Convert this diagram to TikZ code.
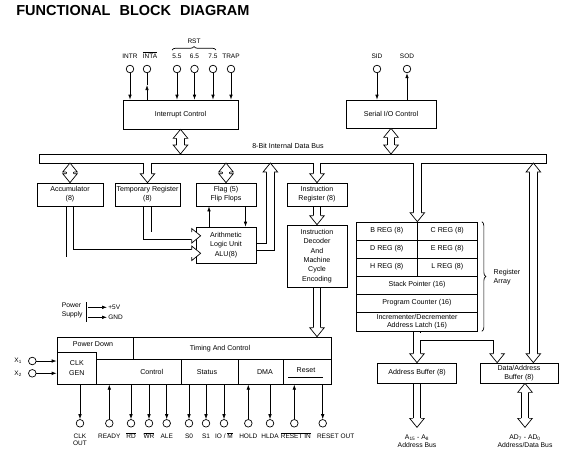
\documentclass[tikz,border=0pt]{standalone}
\usepackage{fontspec}
\setmainfont{Liberation Sans}
\usetikzlibrary{arrows.meta,calc,decorations.pathreplacing,positioning,backgrounds}

\newcommand{\ovl}[1]{$\overline{\mbox{#1}}$}
\newcommand{\pipeset}{
  ($(intc.south)+(0,9)$) -- ($(intc.south |- bustop)+(0,-9)$)
  ($(sioc.south)+(0,9)$) -- ($(sioc.south |- bustop)+(0,-9)$)
  ($(acc.north |- busbot)+(0,9)$) -- ($(acc.north)+(0,-9)$)
  ($(flag.north |- busbot)+(0,9)$) -- ($(flag.north)+(0,-9)$)
  (tmp.north |- busbot) -- ($(tmp.north)+(0,-9)$)
  (ir.north |- busbot) -- ($(ir.north)+(0,-9)$)
  (ir.south) -- ($(dec.north)+(0,-9)$)
  (dec.south) -- ($(dec.south |- tc.north)+(0,-9)$)
  (breg.north east |- busbot) -- ($(breg.north east)+(0,-9)$)
  (latch.south) -- ($(abuf.north)+(0,-9)$)
  ($(latch.south)+(0,5.3)$) -| ($(dain)+(0,-9)$)
  (abuf.south) -- ($(abus)+(0,-9)$)
  ($(daup |- busbot)+(0,9)$) -- ($(daup)+(0,-9)$)
  ($(dadn)+(0,9)$) -- ($(adbus)+(0,-9)$)
  (tmp.south) |- ($(tmpin)+(-9,0)$)
  (acc.south) |- ($(accin)+(-9,0)$)
  ($(alu.east)+(0,2)$) -| ($(aluout)+(0,9)$)
}

\begin{document}
\begin{tikzpicture}[x=1pt,y=-1pt,>={Latex[length=5pt,width=3.6pt]},
  font=\fontsize{7.1}{9.3}\selectfont,line width=0.7pt,
  blk/.style={draw,fill=white,align=center,inner sep=0pt},
  cell/.style={blk,minimum height=18pt},
  hole/.style={draw,fill=white,circle,minimum size=7.6pt,inner sep=0pt},
  plbl/.style={font=\fontsize{6.5}{7.6}\selectfont,inner sep=1pt,text height=5pt,text depth=1.3pt},
  sig/.style={->},
  pipeo/.style={line width=8.3pt,line join=miter},
  pipei/.style={white,line width=6.9pt,line join=miter},
  hd/.pic={\filldraw[fill=white,line join=miter] (-9,-3.8) -- (-9,-7.3) -- (0,0) -- (-9,7.3) -- (-9,3.8);}]
  \useasboundingbox (0,0) rectangle (583,464);
  \begin{scope}[on background layer]
    \fill[white] (0,0) rectangle (583,464);
  \end{scope}

  \node[anchor=base west,inner sep=0pt,font=\fontsize{14.5}{17}\selectfont\bfseries] (title) at (16,15)
    {FUNCTIONAL\hspace{5pt} BLOCK\hspace{5pt} DIAGRAM};

  \coordinate (busL) at (39,154);
  \coordinate (busR) at (546,154);
  \coordinate (bustop) at (0,154);
  \coordinate (busbot) at (0,163);
  \node (buslbl) at (288,146) {8-Bit Internal Data Bus};

  \node[blk,minimum width=115pt,minimum height=29pt] (intc) at (180.5,114.5) {Interrupt Control};
  \node[blk,minimum width=90pt,minimum height=28pt] (sioc) at (391,114) {Serial I/O Control};
  \node[blk,minimum width=66pt,minimum height=23pt] (acc) at (70,194.5) {Accumulator\\(8)};
  \node[blk,minimum width=65pt,minimum height=23pt] (tmp) at (147.5,194.5) {Temporary Register\\(8)};
  \node[blk,minimum width=60pt,minimum height=23pt] (flag) at (226,194.5) {Flag (5)\\Flip Flops};
  \node[blk,minimum width=60pt,minimum height=36pt] (alu) at (226,245) {Arithmetic\\Logic Unit\\ALU(8)};
  \node[blk,minimum width=60pt,minimum height=23pt] (ir) at (317,194.5) {Instruction\\Register (8)};
  \node[blk,minimum width=60pt,minimum height=62pt] (dec) at (317,256)
    {Instruction\\Decoder\\And\\Machine\\Cycle\\Encoding};

  \node[cell,minimum width=60.5pt] (breg) at (386.75,231) {B REG (8)};
  \node[cell,minimum width=60.5pt] (creg) at (447.25,231) {C REG (8)};
  \node[cell,minimum width=60.5pt] (dreg) at (386.75,249) {D REG (8)};
  \node[cell,minimum width=60.5pt] (ereg) at (447.25,249) {E REG (8)};
  \node[cell,minimum width=60.5pt] (hreg) at (386.75,267) {H REG (8)};
  \node[cell,minimum width=60.5pt] (lreg) at (447.25,267) {L REG (8)};
  \node[cell,minimum width=121pt] (sp) at (417,285) {Stack Pointer (16)};
  \node[cell,minimum width=121pt] (pc) at (417,303) {Program Counter (16)};
  \node[cell,minimum width=121pt,minimum height=19pt,font=\fontsize{7.1}{8.6}\selectfont] (latch) at (417,321.5)
    {Incrementer/Decrementer\\Address Latch (16)};
  \draw[decorate,decoration={brace,amplitude=4pt}] ($(creg.north east)+(4,0)$) -- ($(latch.south east)+(4,0)$);
  \node[align=left,anchor=west,font=\fontsize{7.1}{9}\selectfont] (regarr) at (490,277) {Register\\Array};

  \node[blk,minimum width=79pt,minimum height=20pt] (abuf) at (417,373) {Address Buffer (8)};
  \node[blk,minimum width=78pt,minimum height=20pt,font=\fontsize{7.1}{8.4}\selectfont] (dbuf) at (519,373)
    {Data/Address\\Buffer (8)};
  \coordinate (dain) at ($(dbuf.north west)+(17.5,0)$);
  \coordinate (daup) at ($(dbuf.north east)+(-25,0)$);
  \coordinate (dadn) at ($(dbuf.south)+(6,0)$);
  \coordinate (abus) at ($(abuf.south)+(0,44)$);
  \coordinate (adbus) at ($(dadn)+(0,44)$);
  \coordinate (tmpin) at ($(alu.west)+(5,-9.2)$);
  \coordinate (accin) at ($(alu.west)+(5,8.3)$);
  \coordinate (aluout) at ($(alu.east |- busbot)+(14,0)$);

  \node[draw,minimum width=274pt,minimum height=47.3pt,inner sep=0pt] (tc) at (194,360.65) {};
  \node[blk,minimum width=39.7pt,minimum height=32.3pt] (clk) at (76.85,368.15) {CLK\\GEN};
  \coordinate (rowtop) at (0,359.3);
  \draw (clk.east |- rowtop) -- (tc.east |- rowtop);
  \draw (133,337) -- (133,359.3);
  \draw (181,359.3) -- (181,384.3);
  \draw (238.3,359.3) -- (238.3,384.3);
  \draw (283.3,359.3) -- (283.3,384.3);
  \node (pdtxt) at (93,344.5) {Power Down};
  \node (tctxt) at (220,349) {Timing And Control};
  \node (ctltxt) at (151.7,372) {Control};
  \node (ststxt) at (207,372) {Status};
  \node (dmatxt) at (265,372) {DMA};
  \node (rsttxt) at (306,370.5) {Reset};
  \draw (288,377) -- (323,377);

  \draw ($(busbot -| tmp.north)+(-3.8,0)$) -- (busL |- busbot) -- (busL) -- (busR) -- (busR |- busbot)
    -- ($(busbot -| breg.north east)+(3.8,0)$);
  \draw ($(busbot -| tmp.north)+(3.8,0)$) -- ($(busbot -| ir.north)+(-3.8,0)$);
  \draw ($(busbot -| ir.north)+(3.8,0)$) -- ($(busbot -| breg.north east)+(-3.8,0)$);

  \begin{scope}[on background layer]
    \draw[pipeo] \pipeset;
    \draw[pipei] \pipeset;
  \end{scope}

  \pic[rotate=90] at (intc.south) {hd};
  \pic[rotate=-90] at (intc.south |- bustop) {hd};
  \pic[rotate=90] at (sioc.south) {hd};
  \pic[rotate=-90] at (sioc.south |- bustop) {hd};
  \pic[rotate=90] at (acc.north |- busbot) {hd};
  \pic[rotate=-90] at (acc.north) {hd};
  \pic[rotate=90] at (flag.north |- busbot) {hd};
  \pic[rotate=-90] at (flag.north) {hd};
  \pic[rotate=-90] at (tmp.north) {hd};
  \pic[rotate=-90] at (ir.north) {hd};
  \pic[rotate=-90] at (dec.north) {hd};
  \pic[rotate=-90] at (dec.south |- tc.north) {hd};
  \pic[rotate=-90] at (breg.north east) {hd};
  \pic[rotate=-90] at (abuf.north) {hd};
  \pic[rotate=-90] at (dain) {hd};
  \pic[rotate=-90] at (abus) {hd};
  \pic[rotate=90] at (daup |- busbot) {hd};
  \pic[rotate=-90] at (daup) {hd};
  \pic[rotate=90] at (dadn) {hd};
  \pic[rotate=-90] at (adbus) {hd};
  \pic at (tmpin) {hd};
  \pic at (accin) {hd};
  \pic[rotate=90] at (aluout) {hd};

  \node[below=6pt of abus,align=center,inner sep=1pt,font=\fontsize{6.8}{8}\selectfont] (abuslbl)
    {A\textsubscript{15} - A\textsubscript{8}\\Address Bus};
  \node[below=6pt of adbus,align=center,inner sep=1pt,font=\fontsize{6.8}{8}\selectfont] (adbuslbl)
    {AD\textsubscript{7} - AD\textsubscript{0}\\Address/Data Bus};

  \draw[sig] ($(alu.north)+(-17,0)$) -- ($(flag.south)+(-17,0)$);
  \draw[sig] ($(flag.south)+(19.5,0)$) -- ($(alu.north)+(19.5,0)$);

  \node[hole] (intr) at (130,69) {};
  \node[hole] (inta) at (147,69) {};
  \node[hole] (rst55) at (177,69) {};
  \node[hole] (rst65) at (194.5,69) {};
  \node[hole] (rst75) at (213,69) {};
  \node[hole] (trap) at (231,69) {};
  \node[plbl,above=4pt of intr] (intrl) {INTR};
  \node[plbl,above=4pt of inta,xshift=3pt] (intal) {\ovl{INTA}};
  \node[plbl,above=4pt of rst55] (rst55l) {5.5};
  \node[plbl,above=4pt of rst65] (rst65l) {6.5};
  \node[plbl,above=4pt of rst75] (rst75l) {7.5};
  \node[plbl,above=4pt of trap] (trapl) {TRAP};
  \coordinate (rstl) at (172,50);
  \coordinate (rstr) at (216,50);
  \draw[decorate,decoration={brace,amplitude=3.5pt}] (rstl) -- (rstr);
  \node[plbl] (rstlbl) at (194,42) {RST};
  \draw[sig] (intr) -- (intr |- intc.north);
  \coordinate (intamid) at ($(inta |- intc.north)!0.55!(inta.south)$);
  \draw[sig] (inta |- intc.north) -- (intamid);
  \draw (intamid) -- (inta);
  \draw[sig] (rst55) -- (rst55 |- intc.north);
  \draw[sig] (rst65) -- (rst65 |- intc.north);
  \draw[sig] (rst75) -- (rst75 |- intc.north);
  \draw[sig] (trap) -- (trap |- intc.north);

  \node[hole] (sid) at (377,69) {};
  \node[hole] (sod) at (407,69) {};
  \node[plbl,above=4pt of sid] (sidl) {SID};
  \node[plbl,above=4pt of sod] (sodl) {SOD};
  \draw[sig] (sid) -- (sid |- sioc.north);
  \draw[sig] (sod |- sioc.north) -- (sod);

  \node[align=left,anchor=west,inner sep=0pt,font=\fontsize{6.8}{9.3}\selectfont] (psup) at (61.5,310.5) {Power\\Supply};
  \draw (86,302) -- (86,321.7);
  \node[plbl,anchor=west] (p5v) at (107,307.3) {+5V};
  \node[plbl,anchor=west] (gnd) at (107,317.3) {GND};
  \draw[sig] ($(p5v.west)+(-19,0)$) -- (p5v.west);
  \draw[sig] ($(gnd.west)+(-19,0)$) -- (gnd.west);

  \node[hole] (x1) at (32.3,361) {};
  \node[hole] (x2) at (32.3,373.3) {};
  \node[plbl,left=5pt of x1] (x1l) {X\textsubscript{1}};
  \node[plbl,left=5pt of x2] (x2l) {X\textsubscript{2}};
  \draw[sig] (x1) -- (x1 -| clk.west);
  \draw[sig] (x2) -- (x2 -| clk.west);

  \node[hole] (clkout) at (80,423.3) {};
  \node[hole] (ready) at (109.3,423.3) {};
  \node[hole] (rd) at (131,423.3) {};
  \node[hole] (wr) at (149,423.3) {};
  \node[hole] (ale) at (166.7,423.3) {};
  \node[hole] (s0) at (189,423.3) {};
  \node[hole] (s1) at (206,423.3) {};
  \node[hole] (iom) at (224,423.3) {};
  \node[hole] (hold) at (248.3,423.3) {};
  \node[hole] (hlda) at (270,423.3) {};
  \node[hole] (rstin) at (294.3,423.3) {};
  \node[hole] (rstout) at (322.7,423.3) {};
  \node[plbl,below=5pt of clkout,align=center,text height=,text depth=] (clkoutl) {CLK\\OUT};
  \node[plbl,below=5pt of ready] (readyl) {READY};
  \node[plbl,below=5pt of rd] (rdl) {\ovl{RD}};
  \node[plbl,below=5pt of wr] (wrl) {\ovl{WR}};
  \node[plbl,below=5pt of ale] (alel) {ALE};
  \node[plbl,below=5pt of s0] (s0l) {S0};
  \node[plbl,below=5pt of s1] (s1l) {S1};
  \node[plbl,below=5pt of iom] (ioml) {IO / \ovl{M}};
  \node[plbl,below=5pt of hold] (holdl) {HOLD};
  \node[plbl,below=5pt of hlda] (hldal) {HLDA};
  \node[plbl,below=5pt of rstin,xshift=1.5pt] (rstinl) {\ovl{RESET IN}};
  \node[plbl,anchor=north west] (rstoutl) at ($(rstout.south)+(-7,5)$) {RESET OUT};
  \draw[sig] (clkout |- tc.south) -- (clkout);
  \draw[sig] (ready) -- (ready |- tc.south);
  \draw[sig] (rd |- tc.south) -- (rd);
  \draw[sig] (wr |- tc.south) -- (wr);
  \draw[sig] (ale |- tc.south) -- (ale);
  \draw[sig] (s0 |- tc.south) -- (s0);
  \draw[sig] (s1 |- tc.south) -- (s1);
  \draw[sig] (iom |- tc.south) -- (iom);
  \draw[sig] (hold) -- (hold |- tc.south);
  \draw[sig] (hlda |- tc.south) -- (hlda);
  \draw[sig] (rstin) -- (rstin |- tc.south);
  \draw[sig] (rstout |- tc.south) -- (rstout);
\end{tikzpicture}
\end{document}
